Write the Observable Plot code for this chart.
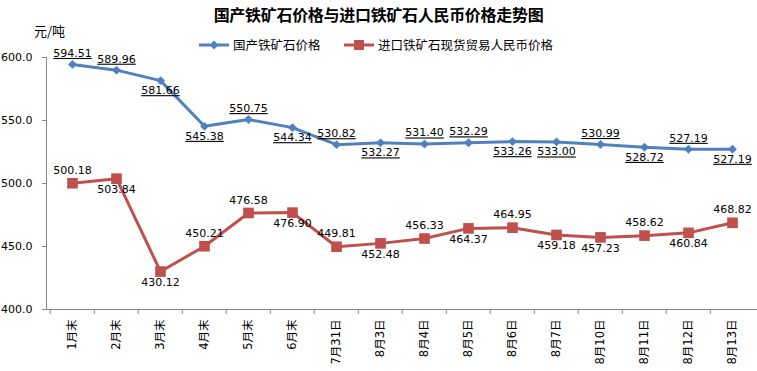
<!DOCTYPE html>
<html>
<head>
<meta charset="utf-8">
<script src="https://cdn.jsdelivr.net/npm/d3@7"></script>
<script src="https://cdn.jsdelivr.net/npm/@observablehq/plot@0.6"></script>
<style>
  body { margin: 0; background: #fff; font-family: "DejaVu Sans", "Noto Sans CJK SC", sans-serif; }
  #wrap { position: relative; width: 757px; height: 371px; overflow: hidden; }
  #chart { position: absolute; left: 0; top: 0; }
  .title { position: absolute; left: 0; width: 757px; top: 2px; text-align: center; font: bold 16px "Noto Sans CJK SC", sans-serif; color: #000; white-space: nowrap; letter-spacing: -0.3px; }
  .unit { position: absolute; left: 34px; top: 21px; font: 13px "Noto Sans CJK SC", sans-serif; color: #000; }
  .legend { position: absolute; top: 35px; font: 12.5px "Noto Sans CJK SC", sans-serif; color: #000; display: flex; align-items: center; white-space: nowrap; }
  .legend svg { margin-right: 4px; }
  .ul text { text-decoration: underline; }
</style>
</head>
<body>
<div id="wrap">
  <div id="chart"></div>
  <div class="title">国产铁矿石价格与进口铁矿石人民币价格走势图</div>
  <div class="unit">元/吨</div>
  <div class="legend" style="left:199px"><svg width="30" height="12"><line x1="0" y1="6" x2="30" y2="6" stroke="#4F81BD" stroke-width="3"/><path d="M15,1.5 L19.5,6 L15,10.5 L10.5,6Z" fill="#4F81BD"/></svg>国产铁矿石价格</div>
  <div class="legend" style="left:344px"><svg width="30" height="12"><line x1="0" y1="6" x2="30" y2="6" stroke="#C0504D" stroke-width="3"/><rect x="10" y="1" width="10" height="10" fill="#C0504D"/></svg>进口铁矿石现货贸易人民币价格</div>
</div>
<script>
const categories = ["1月末","2月末","3月末","4月末","5月末","6月末","7月31日","8月3日","8月4日","8月5日","8月6日","8月7日","8月10日","8月11日","8月12日","8月13日"];
const domestic = [594.51,589.96,581.66,545.38,550.75,544.34,530.82,532.27,531.40,532.29,533.26,533.00,530.99,528.72,527.19,527.19];
const imported = [500.18,503.84,430.12,450.21,476.58,476.90,449.81,452.48,456.33,464.37,464.95,459.18,457.23,458.62,460.84,468.82];
const yTicks = [400,450,500,550,600];
// label side: 1 = above the point, -1 = below
const domesticSide = [1,1,-1,-1,1,-1,1,-1,1,1,-1,-1,1,-1,1,-1];
const importedSide = [1,-1,-1,1,1,-1,1,-1,1,-1,1,-1,-1,1,-1,1];

const rows = categories.map((c, i) => ({cat: c, dom: domestic[i], imp: imported[i], ds: domesticSide[i], is: importedSide[i]}));

const W = 757, H = 371, ML = 46, MR = 0;
const bw = (W - ML - MR) / categories.length;
const axisColor = "#868686";
const blue = "#4F81BD", red = "#C0504D";
const underlined = (index, scales, values, dims, context, next) => {
  const g = next(index, scales, values, dims, context);
  g.classList.add("ul");
  return g;
};

const chart = Plot.plot({
  width: W,
  height: H,
  marginLeft: ML,
  marginRight: MR,
  marginTop: 57,
  marginBottom: 62,
  style: {fontFamily: '"DejaVu Sans", "Noto Sans CJK SC", sans-serif', fontSize: "11px", color: "#000", background: "#fff"},
  x: {type: "band", domain: categories, padding: 0, label: null},
  y: {domain: [400, 600], label: null},
  marks: [
    Plot.ruleY([400], {stroke: axisColor}),
    Plot.frame({anchor: "left", stroke: axisColor}),
    Plot.axisY({ticks: yTicks, tickFormat: d => d.toFixed(1), tickSize: 4, tickPadding: 10, stroke: axisColor, fill: "#000", fontSize: 11, label: null}),
    Plot.axisX({tickSize: 5, tickFormat: () => "", dx: -bw / 2, stroke: axisColor, label: null}),
    Plot.axisX({tickSize: 0, tickRotate: -90, tickPadding: 10, fill: "#000", fontSize: 11.5, fontFamily: '"DejaVu Sans", "Noto Sans CJK SC", sans-serif', label: null}),
    Plot.line(rows, {x: "cat", y: "dom", stroke: blue, strokeWidth: 3}),
    Plot.dot(rows, {x: "cat", y: "dom", symbol: "diamond2", r: 4, fill: blue, stroke: "none"}),
    Plot.line(rows, {x: "cat", y: "imp", stroke: red, strokeWidth: 3}),
    Plot.dot(rows, {x: "cat", y: "imp", symbol: "square", r: 6, fill: red, stroke: "none"}),
    Plot.text(rows.filter(d => d.ds > 0), {x: "cat", y: "dom", text: d => d.dom.toFixed(2), dy: -11, fill: "#000", fontSize: 11, render: underlined}),
    Plot.text(rows.filter(d => d.ds < 0), {x: "cat", y: "dom", text: d => d.dom.toFixed(2), dy: 10, fill: "#000", fontSize: 11, render: underlined}),
    Plot.text(rows.filter(d => d.is > 0), {x: "cat", y: "imp", text: d => d.imp.toFixed(2), dy: -13, fill: "#000", fontSize: 11}),
    Plot.text(rows.filter(d => d.is < 0), {x: "cat", y: "imp", text: d => d.imp.toFixed(2), dy: 11, fill: "#000", fontSize: 11})
  ]
});
document.getElementById("chart").appendChild(chart);
</script>
</body>
</html>
